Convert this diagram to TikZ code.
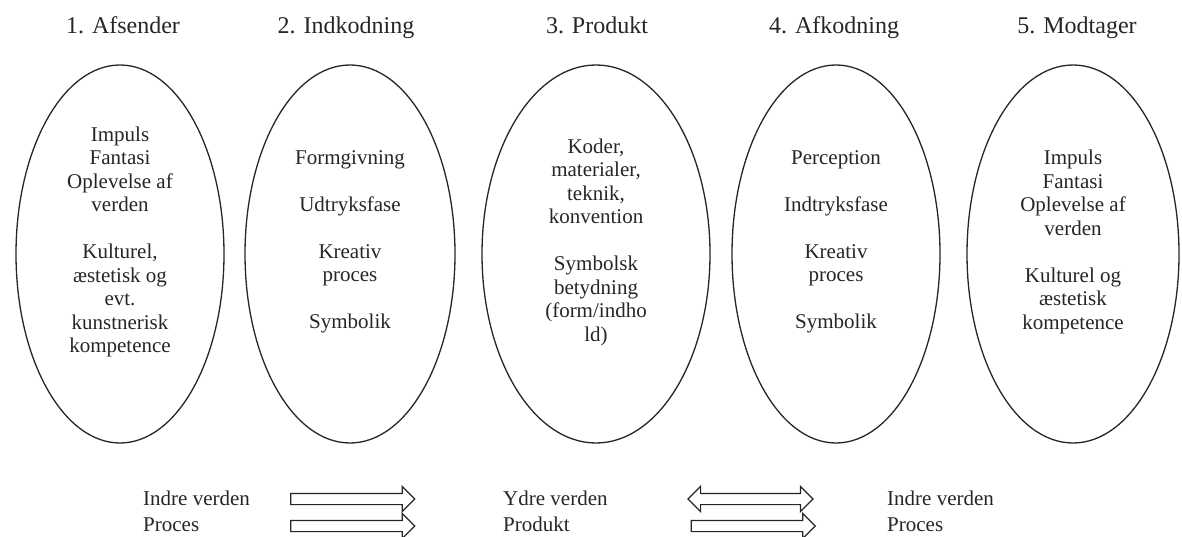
\documentclass[tikz,border=0pt]{standalone}
\usepackage{fontspec}
\setmainfont{Liberation Serif}
\usetikzlibrary{shapes.geometric,shapes.arrows}
\definecolor{ink}{HTML}{262626}
\begin{document}
\begin{tikzpicture}[x=1pt,y=-1pt,
  oval/.style={ellipse, draw=ink, line width=1.3pt, minimum width=#1, minimum height=378pt, inner sep=0pt},
  body/.style={text=ink, align=center, inner sep=0pt, font=\fontsize{21}{23.5}\selectfont},
  title/.style={text=ink, anchor=base, inner sep=0pt, font=\fontsize{24}{28}\selectfont},
  side/.style={text=ink, anchor=base west, inner sep=0pt, font=\fontsize{21}{26}\selectfont},
  fwd/.style={single arrow, draw=ink, line width=1.2pt, fill=white, inner xsep=0pt, inner ysep=5pt,
    single arrow head extend=7pt, single arrow tip angle=90, minimum height=124pt},
  both/.style={double arrow, draw=ink, line width=1.2pt, fill=white, inner xsep=0pt, inner ysep=5pt,
    double arrow head extend=7pt, double arrow tip angle=90, minimum height=125pt}
]
\fill[white] (0,0) rectangle (1182,537);
\useasboundingbox (0,0) rectangle (1182,537);

% column headings
\node[title] (h1) at (123,34) {1. Afsender};
\node[title] (h2) at (346,34) {2. Indkodning};
\node[title] (h3) at (597,34) {3. Produkt};
\node[title] (h4) at (834,34) {4. Afkodning};
\node[title] (h5) at (1077,34) {5. Modtager};

% the five stages
\node[oval=208pt] (e1) at (120,254) {};
\node[oval=210pt] (e2) at (350,254) {};
\node[oval=228pt] (e3) at (596,254) {};
\node[oval=208pt] (e4) at (836,254) {};
\node[oval=212pt] (e5) at (1073,254) {};

% stage texts, set a little above the centre of each oval
\node[body] (t1) at ([yshift=12pt]e1.center) {Impuls\\Fantasi\\Oplevelse af\\verden\\[23.5pt]Kulturel,\\æstetisk og\\evt.\\kunstnerisk\\kompetence};
\node[body] (t2) at ([yshift=12pt]e2.center) {Formgivning\\[23.5pt]Udtryksfase\\[23.5pt]Kreativ\\proces\\[23.5pt]Symbolik};
\node[body] (t3) at ([yshift=12pt]e3.center) {Koder,\\materialer,\\teknik,\\konvention\\[23.5pt]Symbolsk\\betydning\\(form/indho\\ld)};
\node[body] (t4) at ([yshift=12pt]e4.center) {Perception\\[23.5pt]Indtryksfase\\[23.5pt]Kreativ\\proces\\[23.5pt]Symbolik};
\node[body] (t5) at ([yshift=12pt]e5.center) {Impuls\\Fantasi\\Oplevelse af\\verden\\[23.5pt]Kulturel og\\æstetisk\\kompetence};

% inner / outer world and process / product
\node[side] (l1) at (143,505) {Indre verden};
\node[side] (l2) at (143,531) {Proces};
\node[side] (l3) at (503,505) {Ydre verden};
\node[side] (l4) at (503,531) {Produkt};
\node[side] (l5) at (887,505) {Indre verden};
\node[side] (l6) at (887,531) {Proces};

\node[fwd] (a1) at (350,499) {};
\node[fwd] (a2) at (350,526) {};
\node[both] (a3) at (750.5,499) {};
\node[fwd] (a4) at (750.5,526) {};
\end{tikzpicture}
\end{document}
